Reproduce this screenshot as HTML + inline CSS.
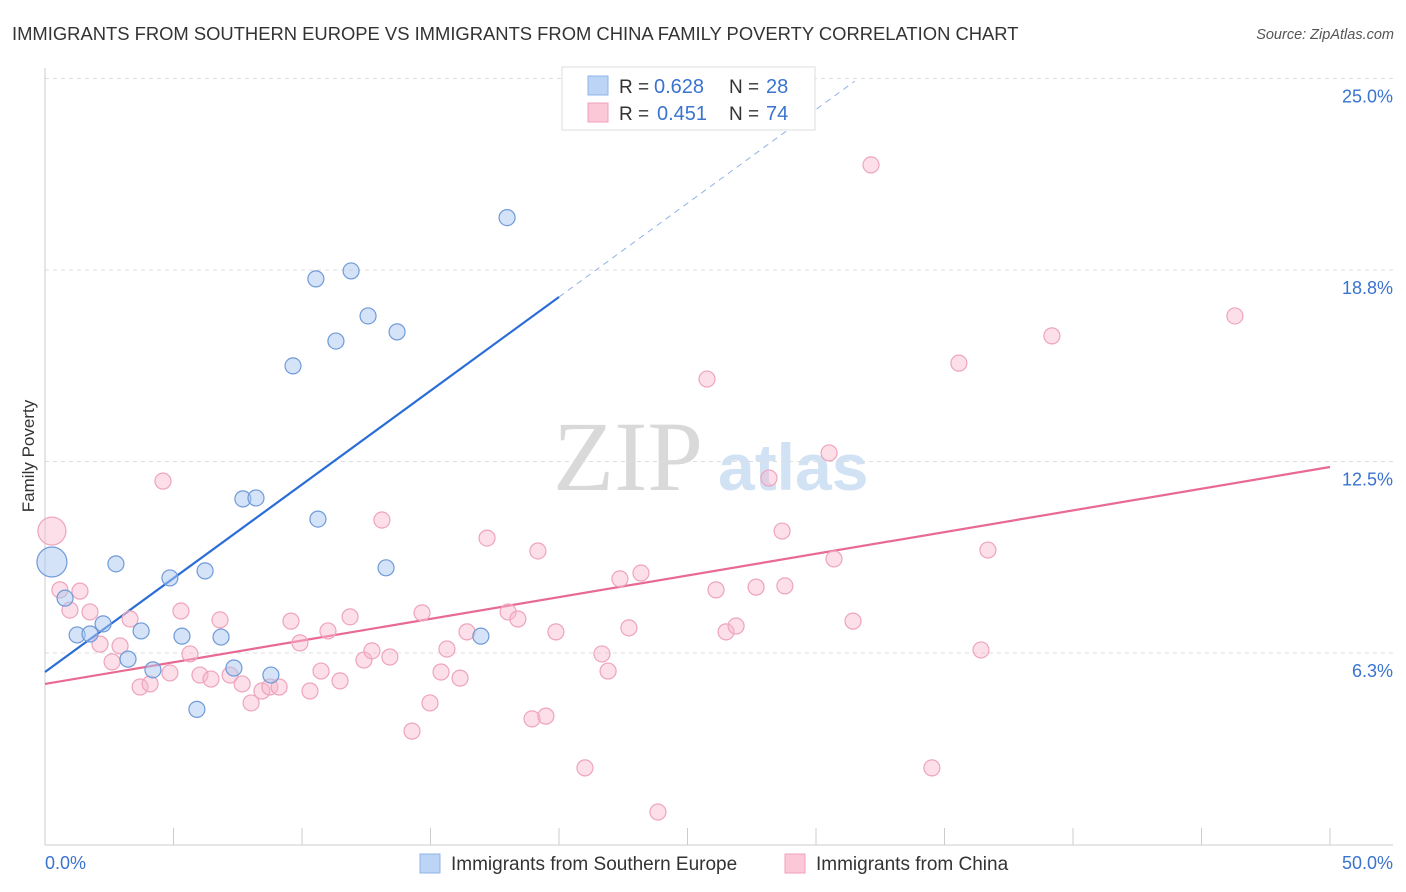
<!DOCTYPE html>
<html><head><meta charset="utf-8"><style>
body{margin:0;background:#fff;font-family:"Liberation Sans",sans-serif;}
#wrap{position:relative;width:1406px;height:892px;overflow:hidden;}
</style></head><body>
<div id="wrap">
<svg id="svg" width="1406" height="892" font-family="Liberation Sans, sans-serif">
<text x="12" y="40" font-size="18.4" fill="#333">IMMIGRANTS FROM SOUTHERN EUROPE VS IMMIGRANTS FROM CHINA FAMILY POVERTY CORRELATION CHART</text>
<text x="1394" y="39" font-size="14.5" fill="#555" font-style="italic" text-anchor="end">Source: ZipAtlas.com</text>
<text x="553" y="490" font-size="100" fill="#d9d9d9" style="font-family:'Liberation Serif',serif">ZIP</text>
<text x="718" y="490" font-size="66" fill="#d2e2f5" font-weight="bold">atlas</text>
<text transform="translate(34,456) rotate(-90)" font-size="17" fill="#333" text-anchor="middle">Family Poverty</text>
<g id="grid"></g><g id="trend"></g><g id="pts"></g>
<text x="45" y="869" font-size="18" fill="#3a73d0">0.0%</text>
<text x="1393" y="869" font-size="18" fill="#3a73d0" text-anchor="end">50.0%</text>
<g>
<rect x="562" y="67" width="253" height="63" fill="#fff" stroke="#ddd"/>
<rect x="588" y="76" width="20" height="19" fill="#bcd4f5" stroke="#8fb3e8"/>
<rect x="588" y="103" width="20" height="19" fill="#fac8d6" stroke="#f0a0b8"/>
<text x="619" y="93" font-size="19" fill="#333">R =</text>
<text x="654" y="93" font-size="20" fill="#3a73d0">0.628</text>
<text x="729" y="93" font-size="19" fill="#333">N =</text>
<text x="766" y="93" font-size="20" fill="#3a73d0">28</text>
<text x="619" y="120" font-size="19" fill="#333">R =</text>
<text x="657" y="120" font-size="20" fill="#3a73d0">0.451</text>
<text x="729" y="120" font-size="19" fill="#333">N =</text>
<text x="766" y="120" font-size="20" fill="#3a73d0">74</text>
</g>
<g>
<rect x="420" y="854" width="20" height="19" fill="#bcd4f5" stroke="#8fb3e8"/>
<text x="451" y="870" font-size="19" fill="#333">Immigrants from Southern Europe</text>
<rect x="785" y="854" width="20" height="19" fill="#fac8d6" stroke="#f0a0b8"/>
<text x="816" y="870" font-size="19" fill="#333">Immigrants from China</text>
</g>
</svg></div>
<script>
const yTicks=[6.25,12.5,18.75,25];
const yTickLabels=["6.3%","12.5%","18.8%","25.0%"];
const blueX=[0.27,0.78,1.25,1.75,2.26,2.76,3.23,3.74,4.20,4.86,5.33,5.91,6.23,6.85,7.35,7.70,8.21,8.79,9.65,10.54,10.62,11.32,11.91,12.57,13.27,13.70,16.96,17.98];
const blueY=[9.22,8.04,6.84,6.87,7.20,9.16,6.05,6.97,5.70,8.70,6.80,4.41,8.93,6.77,5.76,11.28,11.31,5.53,15.62,18.46,10.62,16.43,18.72,17.25,9.03,16.73,6.80,20.46];
const pinkX=[0.27,0.58,0.97,1.36,1.75,2.14,2.61,2.92,3.31,3.70,4.09,4.59,4.86,5.29,5.64,6.03,6.46,6.81,7.20,7.67,8.02,8.44,8.75,9.11,9.57,9.92,10.31,10.74,11.01,11.48,11.87,12.41,12.72,13.11,13.42,14.28,14.67,14.98,15.41,15.64,16.15,16.42,17.20,18.02,18.40,18.95,19.18,19.49,19.88,21.01,21.67,21.91,22.37,22.72,23.19,23.85,25.76,26.11,26.50,26.89,27.67,28.17,28.68,28.79,30.51,30.70,31.44,32.14,34.51,35.56,36.42,36.69,39.18,46.30];
const pinkY=[10.23,8.31,7.65,8.27,7.59,6.54,5.96,6.48,7.36,5.14,5.24,11.86,5.60,7.62,6.22,5.53,5.40,7.33,5.53,5.24,4.62,5.01,5.14,5.14,7.29,6.58,5.01,5.66,6.97,5.34,7.43,6.02,6.32,10.59,6.12,3.70,7.56,4.62,5.63,6.38,5.43,6.94,10.00,7.59,7.36,4.10,9.58,4.19,6.94,2.50,6.22,5.66,8.67,7.07,8.86,1.06,15.19,8.31,6.94,7.13,8.40,11.96,10.23,8.44,12.78,9.32,7.29,22.18,2.50,15.71,6.35,9.61,16.60,17.25];
const blueTrend=[5.63,0.612];
const pinkTrend=[5.24,0.1416];
const NS="http://www.w3.org/2000/svg";
const xs=v=>45+v*25.7, ys=v=>844.5-v*30.64;
function mk(t,a,p){const e=document.createElementNS(NS,t);for(const k in a)e.setAttribute(k,a[k]);p.appendChild(e);return e;}
const grid=document.getElementById('grid');
yTicks.forEach((t,i)=>{
 const l=mk('line',{x1:45,x2:1393,y1:ys(t),y2:ys(t),stroke:'#ddd','stroke-dasharray':'4,4'},grid);
 
 
 const tx=mk('text',{x:1393,y:ys(t)+24,'font-size':18,fill:'#3a73d0','text-anchor':'end'},grid);
 tx.textContent=yTickLabels[i];
 
 
});
mk('line',{x1:45,x2:45,y1:68,y2:845,stroke:'#ccc'},grid);
mk('line',{x1:45,x2:1393,y1:845,y2:845,stroke:'#ccc'},grid);
for(let i=0;i<=10;i++){const t=mk('line',{x1:xs(i*5),x2:xs(i*5),y1:828,y2:845,stroke:'#ccc'},grid);
 
 }
const tr=document.getElementById('trend');
const b1=mk('line',{x1:xs(0),y1:ys(blueTrend[0]),x2:xs(20),y2:ys(blueTrend[0]+blueTrend[1]*20),stroke:'#2a6dd6','stroke-width':2.2},tr);


const b2=mk('line',{x1:xs(20),y1:ys(blueTrend[0]+blueTrend[1]*20),x2:xs(31.5),y2:ys(blueTrend[0]+blueTrend[1]*31.5),stroke:'#8fb3e8','stroke-width':1,'stroke-dasharray':'6,5'},tr);


const p1=mk('line',{x1:xs(0),y1:ys(pinkTrend[0]),x2:xs(50),y2:ys(pinkTrend[0]+pinkTrend[1]*50),stroke:'#e86a93','stroke-width':2.2},tr);


const pts=document.getElementById('pts');
pinkX.forEach((x,i)=>{const c=mk('circle',{cx:xs(x),cy:ys(pinkY[i]),r:i==0?14:8,fill:'rgba(248,184,204,0.45)',stroke:'#eea4bc','stroke-width':1.2},pts);
 
 });
blueX.forEach((x,i)=>{const c=mk('circle',{cx:xs(x),cy:ys(blueY[i]),r:i==0?15:8,fill:'rgba(170,200,240,0.5)',stroke:'#6f9ad8','stroke-width':1.2},pts);
 
 });
</script>
</body></html>
